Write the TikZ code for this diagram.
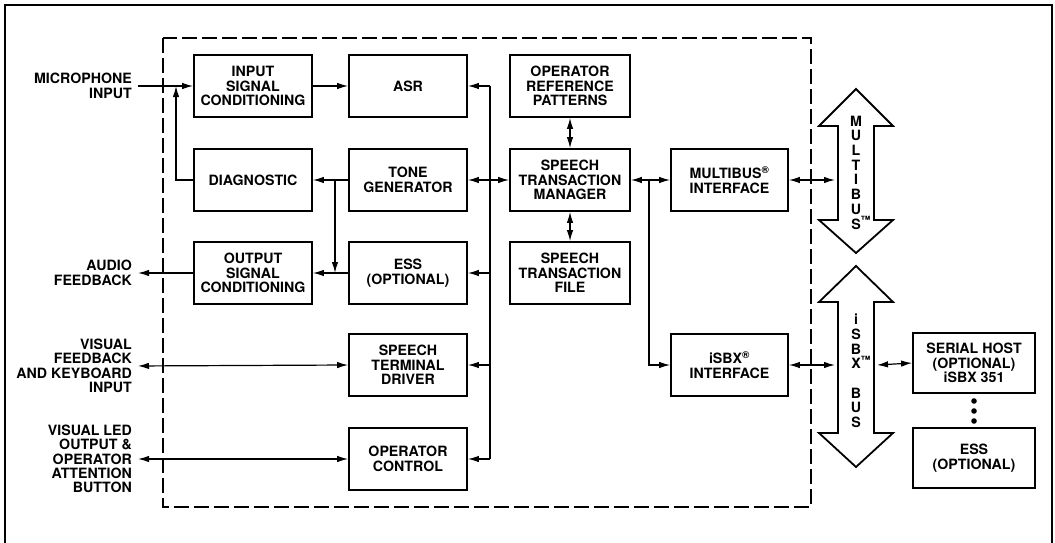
\documentclass[tikz,border=0pt]{standalone}
\usepackage{fontspec}
\setmainfont{TeX Gyre Heros}
\usetikzlibrary{arrows.meta}
\begin{document}
\begin{tikzpicture}[x=1pt,y=-1pt,
  every node/.style={font=\fontsize{14.2}{14.4}\selectfont\bfseries},
  blk/.style={draw, line width=1.8pt, minimum width=118pt, minimum height=62pt, align=center, inner sep=0pt},
  lbl/.style={anchor=east, align=right, inner sep=0pt},
  conn/.style={line width=1.2pt},
  arr/.style={conn, -{Latex[length=11pt,width=6.5pt]}},
  darr/.style={conn, {Latex[length=11pt,width=6.5pt]}-{Latex[length=11pt,width=6.5pt]}},
  busshape/.style={draw, line width=1.8pt, line join=miter},
  bustext/.style={align=center, inner sep=0pt, font=\fontsize{14.2}{14.7}\selectfont\bfseries},
]
\useasboundingbox (0,0) rectangle (1055,543);
% outer frame
\draw[line width=1.8pt] (5,543) -- (5,5) -- (1052,5) -- (1052,543);
% dashed board outline
\draw[line width=1.3pt, dash pattern=on 15pt off 5pt] (163,38) rectangle (811,507);

% blocks
\node[blk] (isc) at (253,86) {INPUT\\SIGNAL\\CONDITIONING};
\node[blk] (asr) at (408,86) {ASR};
\node[blk, minimum width=120pt] (orp) at (570,86) {OPERATOR\\REFERENCE\\PATTERNS};
\node[blk] (diag) at (253,180) {DIAGNOSTIC};
\node[blk] (tg) at (408,180) {TONE\\GENERATOR};
\node[blk, minimum width=120pt] (stm) at (570,180) {SPEECH\\TRANSACTION\\MANAGER};
\node[blk, minimum width=117pt] (mbi) at (729.5,180) {MULTIBUS\textsuperscript{®}\\INTERFACE};
\node[blk] (osc) at (253,273) {OUTPUT\\SIGNAL\\CONDITIONING};
\node[blk] (ess) at (408,273) {ESS\\(OPTIONAL)};
\node[blk, minimum width=120pt] (stf) at (570,273) {SPEECH\\TRANSACTION\\FILE};
\node[blk] (std) at (408,365) {SPEECH\\TERMINAL\\DRIVER};
\node[blk, minimum width=117pt] (isbx) at (729.5,365) {iSBX\textsuperscript{®}\\INTERFACE};
\node[blk, minimum width=122pt, minimum height=60pt] (ser) at (974,363) {SERIAL HOST\\(OPTIONAL)\\iSBX 351};
\node[blk] (oc) at (408,459) {OPERATOR\\CONTROL};
\node[blk, minimum width=122pt, minimum height=60pt] (ess2) at (974,458) {ESS\\(OPTIONAL)};

% left labels
\node[lbl] (micl) at (132,86) {MICROPHONE\\INPUT};
\node[lbl] (audl) at (132,273) {AUDIO\\FEEDBACK};
\node[lbl] (visl) at (132,366) {VISUAL\\FEEDBACK\\AND KEYBOARD\\INPUT};
\node[lbl] (ledl) at (132,459) {VISUAL LED\\OUTPUT \&\\OPERATOR\\ATTENTION\\BUTTON};

% bus arrows
\draw[busshape] (856,89) -- (893,126) -- (874,126) -- (874,220) -- (893,220) -- (856,253)
  -- (819,220) -- (838,220) -- (838,126) -- (819,126) -- cycle;
\node[bustext] (mbus) at (856,172.5) {M\\U\\L\\T\\I\\B\\U\\S\rlap{\textsuperscript{™}}};
\draw[busshape] (856,266) -- (893,302) -- (874,302) -- (874,433) -- (893,433) -- (856,467)
  -- (819,433) -- (838,433) -- (838,302) -- (819,302) -- cycle;
\node[bustext] (sbus) at (856,371) {i\\S\\B\\X\rlap{\textsuperscript{™}}\\[14.5pt]B\\U\\S};

% coordinates
\coordinate (j1) at (176,86);
\coordinate (j2) at (335,180);
\coordinate (bx) at (490,0);
\coordinate (j4) at (649,180);
\coordinate (mbl) at (835,180);
\coordinate (sbl) at (835,365);
\coordinate (sbr) at (877,365);

% left side connections
\draw[arr, shorten <=6pt] (micl.east) -- (isc.west);
\draw[arr] (diag.west) -| (j1);
\draw[arr] (isc.east) -- (asr.west);
\draw[arr] (tg.west) -- (diag.east);
\draw[arr] (j2) -- (j2 |- ess.west);
\draw[arr] (ess.west) -- (osc.east);
\draw[arr, shorten >=6pt] (osc.west) -- (audl.east);
\draw[darr, shorten >=6pt] (std.west) -- (visl.east);
\draw[darr, shorten >=6pt] (oc.west) -- (ledl.east);

% internal bus
\draw[conn] (asr.east -| bx) -- (oc.east -| bx);
\draw[arr] (asr.east -| bx) -- (asr.east);
\draw[arr] (ess.east -| bx) -- (ess.east);
\draw[arr] (std.east -| bx) -- (std.east);
\draw[arr] (oc.east -| bx) -- (oc.east);
\draw[darr] (tg.east) -- (stm.west);

% transaction manager
\draw[darr] (orp.south) -- (stm.north);
\draw[darr] (stm.south) -- (stf.north);
\draw[darr] (stm.east) -- (mbi.west);
\draw[arr] (j4) |- (isbx.west);
\draw[darr] (mbi.east) -- (mbl);
\draw[darr] (isbx.east) -- (sbl);
\draw[darr] (sbr) -- (ser.west);

% dots
\fill (974,401) circle (2.8pt);
\fill (974,411) circle (2.8pt);
\fill (974,421) circle (2.8pt);
\end{tikzpicture}
\end{document}
